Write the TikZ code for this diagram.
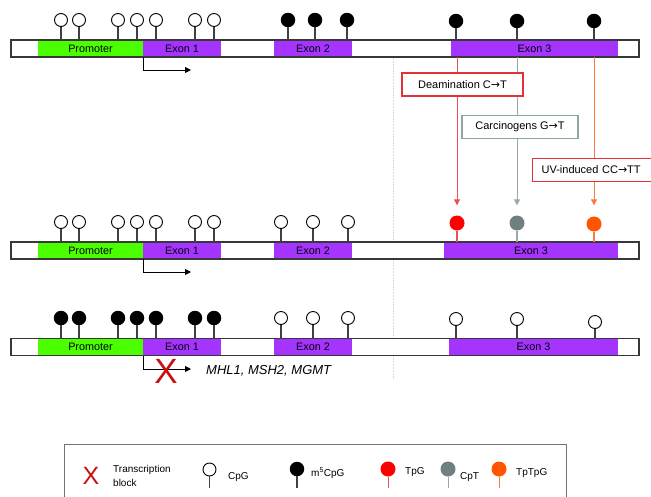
\documentclass[tikz,border=0pt]{standalone}
\usepackage{fontspec}
\setmainfont{Liberation Sans}
\newfontfamily\arrfont{DejaVu Sans}
\newcommand{\rarr}{{\arrfont →}}
\usetikzlibrary{arrows.meta}
\definecolor{prom}{RGB}{76,255,0}
\definecolor{exon}{RGB}{165,52,255}
\definecolor{mred}{RGB}{255,0,0}
\definecolor{mgray}{RGB}{110,128,128}
\definecolor{morange}{RGB}{255,85,0}
\definecolor{redl}{RGB}{236,80,80}
\definecolor{grayl}{RGB}{150,168,168}
\definecolor{orangel}{RGB}{255,120,60}
\definecolor{boxred}{RGB}{226,50,55}
\definecolor{boxgray}{RGB}{140,165,165}
\definecolor{xred}{RGB}{200,16,16}
\begin{document}
\begin{tikzpicture}[x=1pt,y=-1pt,
  every node/.style={font=\fontsize{10.8}{13}\selectfont},
  seg/.style={minimum height=17pt,inner sep=0pt,outer sep=0pt,anchor=west},
  barbox/.style={draw=black!78,line width=1.2pt,fill=white,minimum width=628pt,minimum height=17pt,inner sep=0pt,outer sep=0pt,anchor=west},
  barline/.style={draw=black!78,line width=1.2pt},
  opencpg/.style={circle,draw=black,fill=white,line width=0.9pt,minimum size=13pt,inner sep=0pt},
  methcpg/.style={circle,fill=black,minimum size=14.5pt,inner sep=0pt},
  dotc/.style={circle,fill=#1,minimum size=15pt,inner sep=0pt},
  stem/.style={draw=black!75,line width=1.1pt},
  tarrow/.style={draw=black,line width=0.9pt,-{Triangle[length=6pt,width=6pt]}},
  mutline/.style={draw=#1,line width=1pt,-{Triangle[length=6pt,width=6pt]}},
  mutbox/.style={draw=#1,fill=white,line width=1.2pt,minimum height=23pt,inner sep=0pt,font=\fontsize{11}{13}\selectfont},
  lgtext/.style={font=\fontsize{10}{13}\selectfont,anchor=west,inner sep=0pt},
  vline/.style={draw=black!15,line width=0.8pt,dash pattern=on 2pt off 1pt},
  bigx/.style={text=xred,inner sep=0pt,font=\fontsize{35}{35}\selectfont},
]
\useasboundingbox (0,0) rectangle (651,496);

% dotted guide
\coordinate (vtop) at (393,40);
\coordinate (vbot) at (393,378);
\draw[vline] (vtop) -- (vbot);

% bars
\foreach \r/\y/\s/\w in {1/48.5/451/167, 2/250.5/444/174, 3/347/449/169}{
  \node[barbox] (bar\r) at (11,\y) {};
  \node[seg,fill=prom,minimum width=105pt] (pr\r) at (38,\y) {Promoter};
  \node[seg,fill=exon,minimum width=78pt] (ea\r) at (143,\y) {Exon 1};
  \node[seg,fill=exon,minimum width=78pt] (eb\r) at (274,\y) {Exon 2};
  \node[seg,fill=exon,minimum width=\w pt] (ec\r) at (\s,\y) {Exon 3};
  \draw[barline] (bar\r.north west) rectangle (bar\r.south east);
}

% row 1 lollipops
\foreach \x [count=\i] in {61,79,118,137,156,195,214}{
  \node[opencpg] (a\i) at (\x,20) {};
  \draw[stem] (a\i) -- (a\i |- bar1.north);
}
\foreach \x [count=\i] in {288,315,347}{
  \node[methcpg] (b\i) at (\x,20) {};
  \draw[stem] (b\i) -- (b\i |- bar1.north);
}
\foreach \x [count=\i] in {456,517,594}{
  \node[methcpg] (c\i) at (\x,21) {};
  \draw[stem] (c\i) -- (c\i |- bar1.north);
}

% row 2 lollipops
\foreach \x [count=\i] in {61,79,118,137,156,195,214,281,313,348}{
  \node[opencpg] (d\i) at (\x,222) {};
  \draw[stem] (d\i) -- (d\i |- bar2.north);
}
\node[dotc=mred] (t1) at (457,223) {};
\node[dotc=mgray] (t2) at (517,223) {};
\node[dotc=morange] (t3) at (594,224) {};
\draw[redl,line width=1.1pt] (t1) -- (t1 |- bar2.north);
\draw[grayl,line width=1.1pt] (t2) -- (t2 |- bar2.north);
\draw[orangel,line width=1.1pt] (t3) -- (t3 |- bar2.north);

% row 3 lollipops
\foreach \x [count=\i] in {61,79,118,137,156,195,214}{
  \node[methcpg] (e\i) at (\x,318) {};
  \draw[stem] (e\i) -- (e\i |- bar3.north);
}
\foreach \x/\yy [count=\i] in {281/318,313/318,348/318,456/319,517/319,595/322}{
  \node[opencpg] (f\i) at (\x,\yy) {};
  \draw[stem] (f\i) -- (f\i |- bar3.north);
}

% transcription arrows
\coordinate (tend1) at (191,70);
\coordinate (tend2) at (191,272);
\coordinate (tend3) at (191,369);
\draw[tarrow] (ea1.south west) |- (tend1);
\draw[tarrow] (ea2.south west) |- (tend2);
\draw[tarrow] (ea3.south west) |- (tend3);
\node[bigx] (xblock) at (166,371) {X};
\node[anchor=west,inner sep=0pt,font=\fontsize{13}{15}\selectfont\itshape] (genes) at (206,371) {MHL1, MSH2, MGMT};

% mutation connectors
\draw[mutline=redl,shorten >=10pt] (t1 |- bar1.south) -- (t1);
\draw[mutline=grayl,shorten >=10pt] (t2 |- bar1.south) -- (t2);
\draw[mutline=orangel,shorten >=11pt] (t3 |- bar1.south) -- (t3);

\node[mutbox=boxred,minimum width=121pt] (deam) at (462.5,84.5) {Deamination C\rarr T};
\node[mutbox=boxgray,minimum width=116pt] (carc) at (520,127) {Carcinogens G\rarr T};
\node[mutbox=boxred,minimum width=125pt,anchor=west,align=left,text width=115pt,inner xsep=9pt] (uv) at (532,170) {UV-induced CC\rarr TT};

% legend
\coordinate (lg1) at (64,498);
\coordinate (lg2) at (64,444);
\coordinate (lg3) at (566,444);
\coordinate (lg4) at (566,498);
\draw[draw=black!55,line width=1pt] (lg1) -- (lg2) -- (lg3) -- (lg4);

\node[text=xred,inner sep=0pt,font=\fontsize{25}{25}\selectfont] (lx) at (91,476) {X};
\node[lgtext,anchor=base west] (ltb) at (113,472.5) {Transcription};
\node[lgtext,anchor=base west] (ltb2) at (113,486) {block};

\node[opencpg] (lc) at (209.5,469.5) {};
\coordinate (lcs) at (209.5,488);
\draw[stem] (lc) -- (lcs);
\node[lgtext] (lct) at (228,477) {CpG};

\node[methcpg] (lm) at (297,469) {};
\coordinate (lms) at (297,488);
\draw[stem] (lm) -- (lms);
\node[lgtext] (lmt) at (311,473) {m\textsuperscript{5}CpG};

\node[dotc=mred] (lr) at (388,469) {};
\coordinate (lrs) at (388,488);
\draw[redl,line width=1pt] (lr) -- (lrs);
\node[lgtext] (lrt) at (405,472) {TpG};

\node[dotc=mgray] (lg) at (448,469) {};
\coordinate (lgs) at (448,488);
\draw[grayl,line width=1pt] (lg) -- (lgs);
\node[lgtext] (lgt) at (460,477) {CpT};

\node[dotc=morange] (lo) at (499,469) {};
\coordinate (los) at (499,488);
\draw[orangel,line width=1pt] (lo) -- (los);
\node[lgtext] (lot) at (516,473) {TpTpG};
\end{tikzpicture}
\end{document}
